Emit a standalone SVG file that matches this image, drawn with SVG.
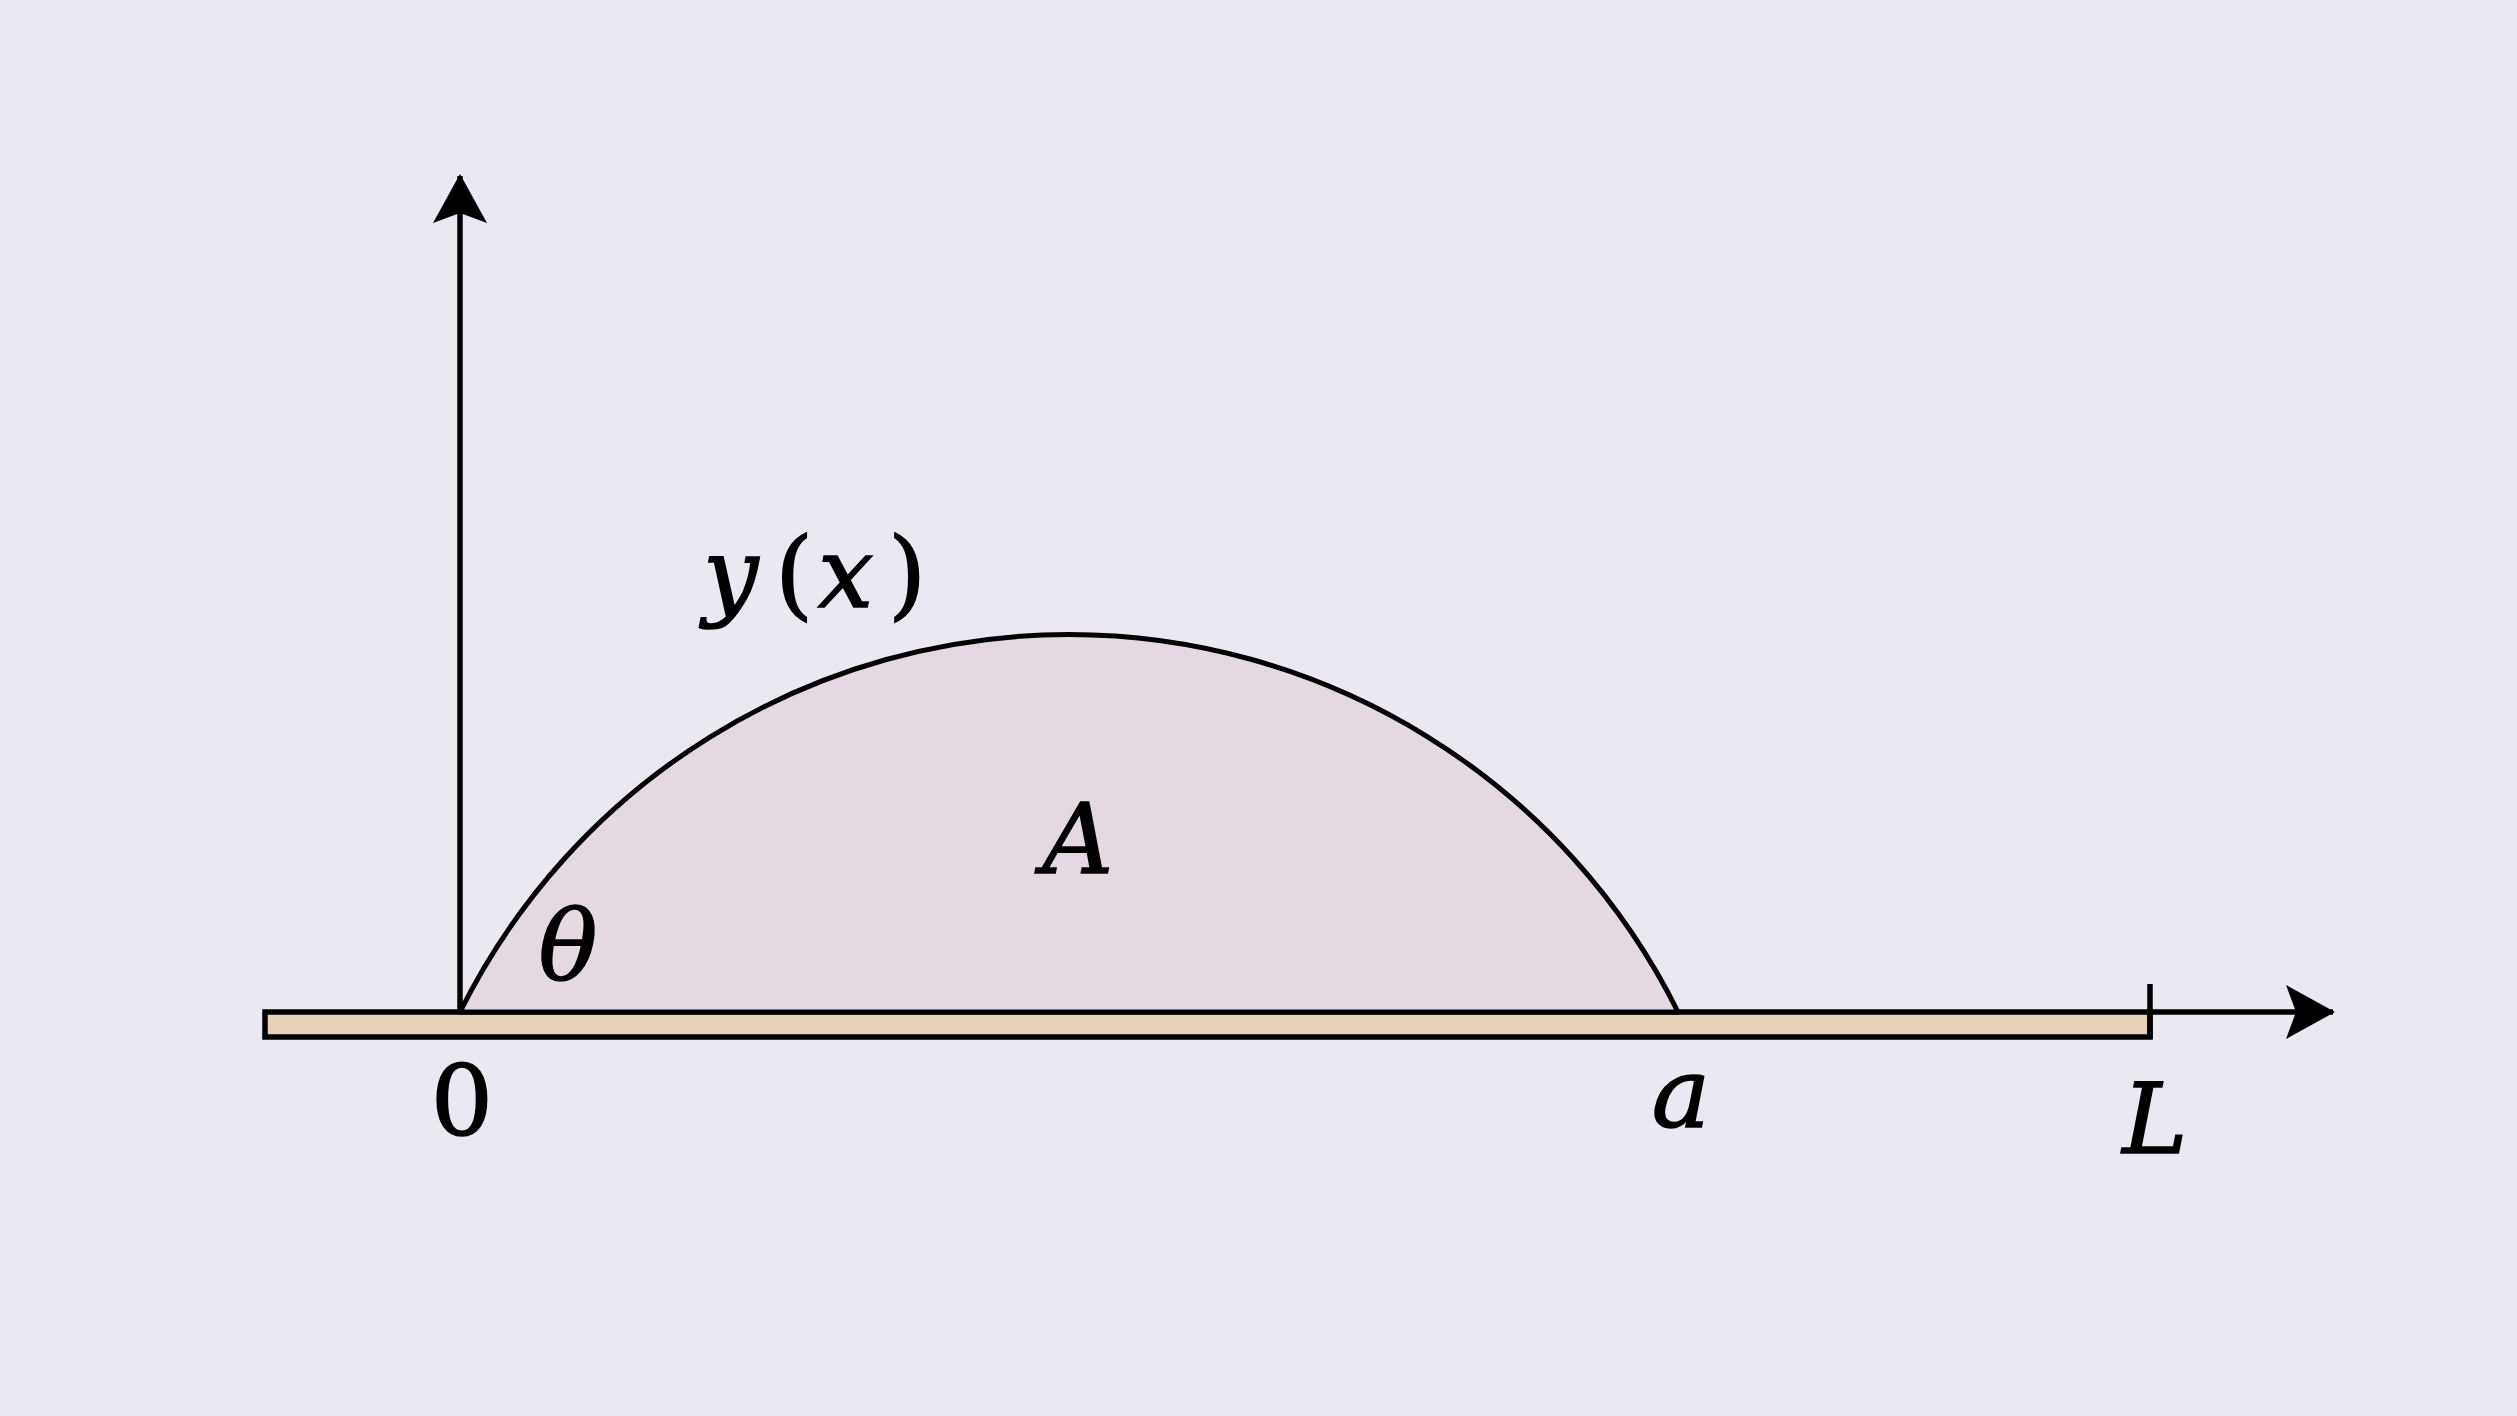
<svg xmlns="http://www.w3.org/2000/svg" width="2517" height="1416" viewBox="0 0 2517 1416">
  <style>
    .ln { fill: none; stroke: #000; stroke-width: 5.5; }
    .lbl { font-family: "DejaVu Serif", "Liberation Serif", serif; font-size: 98px; fill: #000; stroke: #000; stroke-width: 1.6; }
    .it { font-style: italic; }
    .up { font-style: normal; }
  </style>
  <defs>
    <marker id="arr" markerUnits="userSpaceOnUse" viewBox="0 0 50 56" refX="47" refY="28" markerWidth="50" markerHeight="56" orient="auto">
      <path d="M0,1 L49,28 L0,55 L10,28 Z" fill="#000"/>
    </marker>
  </defs>
  <rect width="2517" height="1416" fill="#ebe8f1"/>

  <g id="plate">
    <rect x="265" y="1012" width="1885" height="25" fill="#e6d3b7" stroke="#000" stroke-width="5.5"/>
  </g>

  <g id="droplet">
    <path d="M460,1012 A680,680 0 0 1 1678,1012 Z" fill="#e4d8e2" stroke="#000" stroke-width="5" stroke-linejoin="round"/>
  </g>

  <g id="connectors">
    <line class="ln" x1="460" y1="1012" x2="460" y2="176" marker-end="url(#arr)"/>
    <line class="ln" x1="2150" y1="1012" x2="2333" y2="1012" marker-end="url(#arr)"/>
    <line class="ln" x1="2150" y1="984" x2="2150" y2="1039"/>
  </g>

  <g id="labels">
    <text class="lbl it" y="607"><tspan x="703">y</tspan><tspan class="up" x="775">(</tspan><tspan x="818">x</tspan><tspan class="up" x="888">)</tspan></text>
    <text class="lbl it" x="1078" y="873" text-anchor="middle">A</text>
    <text class="lbl it" x="568" y="980" text-anchor="middle">θ</text>
    <text class="lbl" x="462" y="1135" text-anchor="middle">0</text>
    <text class="lbl it" x="1681" y="1127" text-anchor="middle">a</text>
    <text class="lbl it" x="2155" y="1153" text-anchor="middle">L</text>
  </g>
</svg>
